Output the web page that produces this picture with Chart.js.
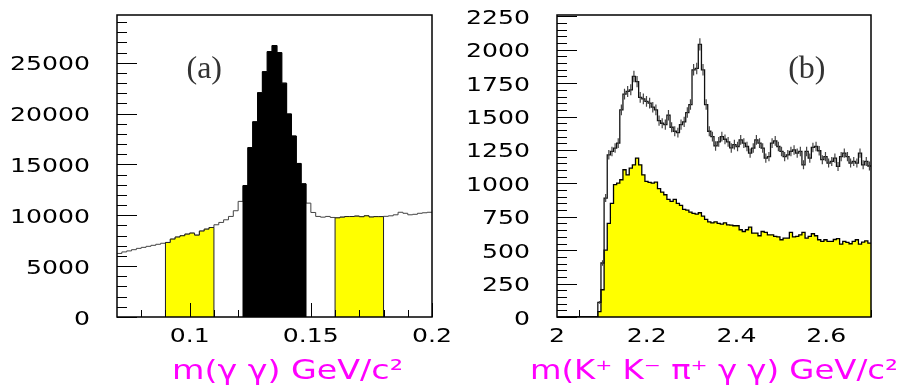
<!DOCTYPE html>
<html>
<head>
<meta charset="utf-8">
<title>m(γγ) and m(K⁺K⁻π⁺γγ) spectra</title>
<script src="https://cdn.jsdelivr.net/npm/chart.js@4.4.1/dist/chart.umd.min.js"></script>
<style>
  html, body { margin: 0; padding: 0; background: #fff; }
  #wrap { position: relative; width: 903px; height: 390px; }
  canvas { position: absolute; top: 0; }
  #gam { left: 0; }
  #kk { left: 450px; }
</style>
</head>
<body>
<div id="wrap">
  <canvas id="gam" width="450" height="390"></canvas>
  <canvas id="kk" width="453" height="390"></canvas>
</div>
<script>
// m(γγ): 0.07 - 0.20 GeV/c², 2 MeV bins
const gamLo = 0.07, gamHi = 0.2, gamBin = 0.002;
const gamCounts = [
  6250, 6400, 6500, 6620, 6750, 6850, 6950, 7050, 7150, 7250,
  7330, 7660, 7860, 7990, 8150, 8250, 8050, 8450, 8640, 8800,
  9070, 9300, 9560, 9890, 10450, 11370,
  12930, 16660, 19200, 22060, 24130, 26100, 26700, 26000, 23000, 19970, 17800, 15100, 13100,
  11200, 10280, 9890, 9820, 9890, 9790,
  9750, 9820, 9880, 9880, 9920, 9860, 9950, 9830, 9870, 9870,
  9900, 9950, 10050, 10300, 10200, 10050, 10100, 10200, 10250, 10300
];
const gamSideLo = [0.09, 0.11];
const gamPeak = [0.122, 0.148];
const gamSideHi = [0.16, 0.18];
const gamXTicks = [0.1, 0.15, 0.2];
const gamYTicks = [0, 5000, 10000, 15000, 20000, 25000];

// m(K+K-π+γγ): 2.0 - 2.7 GeV/c², 7 MeV bins
const kkLo = 2.0, kkHi = 2.7, kkBin = 0.007;
const kkAll = [
  0, 0, 0, 0, 0, 0, 0, 0, 0, 0, 0, 0, 0, 110, 404, 890, 1214, 1239, 1264, 1301,
  1550, 1668, 1688, 1700, 1800, 1762, 1643, 1633, 1613, 1600,
  1570, 1550, 1470, 1450, 1440, 1510, 1420, 1390, 1380, 1440,
  1460, 1530, 1590, 1850, 1860, 2040, 1850, 1590, 1390, 1350,
  1280, 1310, 1350, 1330, 1310, 1265,
  1290, 1276, 1326, 1301, 1276, 1226, 1264, 1326, 1301, 1264,
  1189, 1200, 1301, 1318, 1276, 1239, 1200, 1214, 1239, 1250,
  1226, 1239, 1139, 1239, 1189, 1269, 1276, 1244, 1177, 1200,
  1152, 1164, 1189, 1127, 1200, 1226, 1200, 1152, 1164, 1152,
  1226, 1139, 1164, 1130
];
const kkSide = [
  0, 0, 0, 0, 0, 0, 0, 0, 0, 0, 0, 0, 0, 40, 204, 500, 700, 850, 990, 1002,
  1027, 1102, 1064, 1114, 1139, 1189, 1139, 1064, 1015, 1007,
  1002, 1010, 960, 935, 915, 880, 865, 880, 850, 835,
  805, 800, 785, 775, 770, 780, 755, 730, 712, 705,
  712, 700, 695, 705, 690, 688,
  683, 683, 653, 640, 653, 673, 628, 628, 608, 640,
  633, 615, 615, 603, 600, 578, 590, 590, 633, 600,
  603, 615, 633, 590, 603, 623, 608, 578, 566, 578,
  566, 566, 580, 586, 546, 566, 558, 548, 566, 578,
  546, 560, 570, 553
];
const kkXTicks = [2, 2.2, 2.4, 2.6];
const kkYTicks = [0, 250, 500, 750, 1000, 1250, 1500, 1750, 2000, 2250];

const TICK_FONT = '20px "DejaVu Sans"';
const TITLE_FONT = '27px "DejaVu Sans"';
const TAG_FONT = '32px "Liberation Serif"';

// histogram outline: one point per bin edge, horizontal-first steps
function stepPoints(lo, bin, counts, from, to, closed) {
  const pts = [];
  if (closed) pts.push({ x: lo + from * bin, y: 0 });
  for (let i = from; i < to; i++) pts.push({ x: lo + i * bin, y: counts[i] });
  pts.push({ x: lo + to * bin, y: counts[to - 1] });
  if (closed) pts.push({ x: lo + to * bin, y: 0 });
  return pts;
}

function bandPoints(band) {
  const from = Math.round((band[0] - gamLo) / gamBin);
  const to = Math.round((band[1] - gamLo) / gamBin);
  return stepPoints(gamLo, gamBin, gamCounts, from, to, true);
}

// vertical sqrt(N) error bars at bin centres, broken by null points
function errorBars(lo, bin, counts) {
  const pts = [];
  counts.forEach((n, i) => {
    if (n <= 0) return;
    const xc = lo + (i + 0.5) * bin;
    const e = Math.sqrt(n);
    pts.push({ x: xc, y: n - e }, { x: xc, y: n + e }, { x: xc, y: null });
  });
  return pts;
}

function wideText(ctx, text, x, y, sx, align) {
  ctx.save();
  ctx.translate(x, y);
  ctx.scale(sx, 1);
  ctx.textAlign = align;
  ctx.fillText(text, 0, 0);
  ctx.restore();
}

function drawTicks(chart, cfg) {
  const { ctx, chartArea: a, scales: { x, y } } = chart;
  ctx.save();
  ctx.strokeStyle = '#000';
  ctx.lineWidth = 1;
  ctx.beginPath();
  for (let k = 0; ; k++) {
    const v = cfg.yStep * k;
    if (v > y.max) break;
    const py = Math.round(y.getPixelForValue(v)) + 0.5;
    const major = Math.abs(v / cfg.yMajor - Math.round(v / cfg.yMajor)) < 1e-6;
    ctx.moveTo(a.left, py);
    ctx.lineTo(a.left + (major ? 20 : 10), py);
  }
  for (let k = 0; ; k++) {
    const v = cfg.xFirst + cfg.xStep * k;
    if (v > x.max + 1e-9) break;
    const px = Math.round(x.getPixelForValue(v)) + 0.5;
    const major = cfg.xTicks.some(t => Math.abs(t - v) < 1e-6);
    ctx.moveTo(px, a.bottom);
    ctx.lineTo(px, a.bottom - (major ? 14 : 7));
  }
  ctx.stroke();
  ctx.restore();
}

// PAW style frame: inward ticks, boxed area, wide labels, magenta axis title
function pawFrame(cfg) {
  return {
    id: 'pawFrame',
    beforeDatasetsDraw(chart) {
      if (cfg.ticksBelow) drawTicks(chart, cfg);
    },
    afterDatasetsDraw(chart) {
      if (!cfg.ticksBelow) drawTicks(chart, cfg);
      const { ctx, chartArea: a, scales: { x, y } } = chart;
      ctx.save();
      ctx.strokeStyle = '#000';
      ctx.lineWidth = 1.5;
      ctx.strokeRect(a.left, a.top, a.right - a.left, a.bottom - a.top);

      ctx.fillStyle = '#000';
      ctx.font = TICK_FONT;
      ctx.textBaseline = 'alphabetic';
      const sx = 80 / ctx.measureText('25000').width;
      cfg.yTicks.forEach(v => wideText(ctx, String(v), a.left - 27, y.getPixelForValue(v) + 7.5, sx, 'right'));
      cfg.xTicks.forEach(v => wideText(ctx, String(v), x.getPixelForValue(v), 342, sx, 'center'));

      ctx.fillStyle = '#ff00ff';
      ctx.font = TITLE_FONT;
      wideText(ctx, cfg.title, cfg.titleX, 379, cfg.titleW / ctx.measureText(cfg.title).width, 'left');

      ctx.fillStyle = '#333';
      ctx.font = TAG_FONT;
      ctx.textAlign = 'center';
      ctx.fillText(cfg.tag, x.getPixelForValue(cfg.tagAt[0]), y.getPixelForValue(cfg.tagAt[1]));
      ctx.restore();
    }
  };
}

function baseOptions(xMin, xMax, yMax, padding) {
  return {
    responsive: false,
    devicePixelRatio: 1,
    animation: false,
    layout: { padding },
    elements: { point: { radius: 0 }, line: { tension: 0 } },
    plugins: { legend: { display: false }, tooltip: { enabled: false } },
    scales: {
      x: { type: 'linear', min: xMin, max: xMax, display: false },
      y: { type: 'linear', min: 0, max: yMax, display: false }
    }
  };
}

new Chart(document.getElementById('gam'), {
  type: 'line',
  data: {
    datasets: [
      {
        data: stepPoints(gamLo, gamBin, gamCounts, 0, gamCounts.length, false),
        stepped: true, borderColor: '#444', borderWidth: 1, fill: false, order: 5
      },
      {
        data: bandPoints(gamSideLo),
        stepped: true, borderColor: '#222', borderWidth: 1,
        backgroundColor: '#ffff00', fill: 'origin', order: 2
      },
      {
        data: bandPoints(gamPeak),
        stepped: true, borderColor: '#000', borderWidth: 1,
        backgroundColor: '#000', fill: 'origin', order: 2
      },
      {
        data: bandPoints(gamSideHi),
        stepped: true, borderColor: '#222', borderWidth: 1,
        backgroundColor: '#ffff00', fill: 'origin', order: 2
      }
    ]
  },
  options: baseOptions(gamLo, gamHi, 29700, { left: 117, right: 18, top: 15, bottom: 73 }),
  plugins: [pawFrame({
    yStep: 1000, yMajor: 5000, xFirst: 0.08, xStep: 0.01,
    xTicks: gamXTicks, yTicks: gamYTicks, ticksBelow: false,
    title: 'm(γ γ) GeV/c²', titleX: 172, titleW: 231,
    tag: '(a)', tagAt: [0.106, 23500]
  })]
});

new Chart(document.getElementById('kk'), {
  type: 'line',
  data: {
    datasets: [
      {
        data: stepPoints(kkLo, kkBin, kkSide, 0, kkSide.length, false),
        stepped: true, borderColor: '#000', borderWidth: 1.3,
        backgroundColor: '#ffff00', fill: 'origin', order: 3
      },
      {
        data: stepPoints(kkLo, kkBin, kkAll, 0, kkAll.length, false),
        stepped: true, borderColor: '#111', borderWidth: 1.3, fill: false, order: 2
      },
      {
        data: errorBars(kkLo, kkBin, kkAll),
        borderColor: '#444', borderWidth: 1.2, fill: false, spanGaps: false, order: 1
      }
    ]
  },
  options: baseOptions(kkLo, kkHi, 2260, { left: 107, right: 32, top: 15, bottom: 73 }),
  plugins: [pawFrame({
    yStep: 50, yMajor: 250, xFirst: 2.05, xStep: 0.05,
    xTicks: kkXTicks, yTicks: kkYTicks, ticksBelow: true,
    title: 'm(K⁺ K⁻ π⁺ γ γ) GeV/c²', titleX: 80, titleW: 368,
    tag: '(b)', tagAt: [2.557, 1790]
  })]
});
</script>
</body>
</html>
